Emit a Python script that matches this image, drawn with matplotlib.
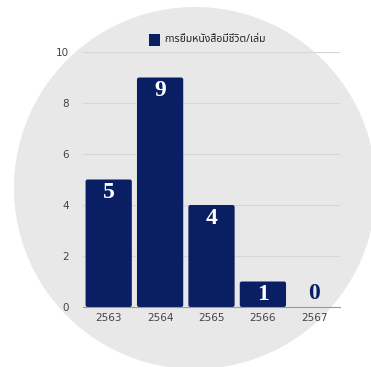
import matplotlib.pyplot as plt
from matplotlib.patches import Ellipse, FancyBboxPatch

# ======================
# Data
# ======================
years = ["2563", "2564", "2565", "2566", "2567"]
loans = [5, 9, 4, 1, 0]
series_name = "การยืมหนังสือมีชีวิต/เล่ม"

navy = "#0a1f63"
thai_fonts = ["Noto Sans Thai", "Loma", "Garuda", "Noto Sans", "DejaVu Sans"]

# ======================
# Figure
# ======================
W, H = 371, 367
fig = plt.figure(figsize=(W / 100, H / 100), dpi=100)

# grey disc behind the chart
cx, cy, r = 195, 188, 181
fig.add_artist(Ellipse((cx / W, 1 - cy / H), 2 * r / W, 2 * r / H,
                       transform=fig.transFigure, facecolor="#e8e8e8",
                       edgecolor="none", zorder=0))

ax = fig.add_axes([83 / W, 1 - 307 / H, 257 / W, 255 / H])
ax.set_facecolor("none")

bars = ax.bar(range(len(years)), loans, width=0.9, color=navy)
# swap plain rectangles for ones with slightly rounded corners
for b in bars:
    x, y = b.get_x(), b.get_y()
    w, h = b.get_width(), b.get_height()
    if h <= 0:
        b.remove()
        continue
    patch = FancyBboxPatch((x, y), w, h,
                           boxstyle="round,pad=0,rounding_size=0.04",
                           mutation_aspect=2.0, facecolor=navy,
                           edgecolor="none", zorder=2)
    b.remove()
    ax.add_patch(patch)

for i, v in enumerate(loans):
    if v > 0:
        ax.annotate(str(v), (i, v), xytext=(0, -9.5), textcoords="offset points",
                    ha="center", va="center", color="white",
                    family="Liberation Serif", fontweight="bold", fontsize=17, zorder=3)
    else:
        ax.annotate(str(v), (i, v), xytext=(0, 10), textcoords="offset points",
                    ha="center", va="center", color=navy,
                    family="Liberation Serif", fontweight="bold", fontsize=17, zorder=3)

ax.set_xlim(-0.5, len(years) - 0.5)
ax.set_ylim(0, 10)
ax.set_yticks([0, 2, 4, 6, 8, 10])
ax.set_xticks(range(len(years)))
ax.set_xticklabels(years)
ax.tick_params(length=0, labelsize=7.5, colors="#444444")
ax.tick_params(axis="y", pad=10)
ax.tick_params(axis="x", pad=4)
ax.grid(axis="y", color="#d6d6d6", linewidth=0.8, zorder=0)
ax.set_axisbelow(True)
for side in ["top", "right", "left"]:
    ax.spines[side].set_visible(False)
ax.spines["bottom"].set_color("#9a9a9a")
ax.spines["bottom"].set_linewidth(0.8)

# legend above the plot area
fig.patches.append(plt.Rectangle((149 / W, 1 - 46 / H), 11 / W, 12 / H,
                                 transform=fig.transFigure, facecolor=navy,
                                 edgecolor="none", zorder=3))
fig.text(164 / W, 1 - 40 / H, series_name, ha="left", va="center",
         fontsize=7.5, color="#222222", family=thai_fonts)

fig.savefig("out.png", dpi=100)
